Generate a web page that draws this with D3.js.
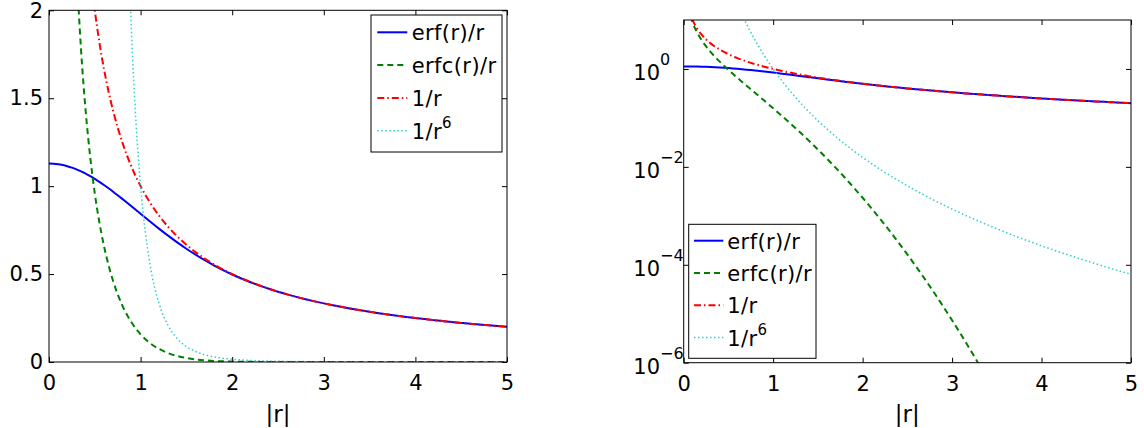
<!DOCTYPE html>
<html><head><meta charset="utf-8">
<script src="https://cdn.jsdelivr.net/npm/d3@7"></script>
<style>body{margin:0;background:#fff} svg{display:block}</style>
</head><body><svg id="c" width="1144" height="428"></svg>
<script>
// ---------------- data ----------------
const xs = [0,0.05,0.1,0.15,0.2,0.25,0.3,0.35,0.4,0.45,0.5,0.55,0.6,0.65,0.7,0.75,0.8,0.85,0.9,0.95,
  1.0,1.1,1.2,1.3,1.4,1.5,1.6,1.7,1.8,1.9,2.0,2.1,2.2,2.3,2.4,2.5,2.6,2.7,2.8,2.9,
  3.0,3.1,3.2,3.3,3.4,3.5,3.6,3.7,3.8,3.9,4.0,4.1,4.2,4.3,4.4,4.5,4.6,4.7,4.8,4.9,5.0];
const erfOverR = [1.128379,1.127440,1.124629,1.119973,1.113513,1.105306,1.095423,1.083949,1.070981,1.056625,
  1.041000,1.024224,1.006427,0.987737,0.968287,0.948207,0.927626,0.906668,0.885454,0.864096,
  0.842701,0.800186,0.758595,0.718468,0.680204,0.644070,0.610218,0.578700,0.549495,0.522521,
  0.497661,0.474772,0.453699,0.434286,0.416380,0.399837,0.384525,0.370321,0.357116,0.344813,
  0.333326,0.322577,0.312498,0.303029,0.294117,0.285714,0.277778,0.270270,0.263158,0.256410,
  0.250000,0.243902,0.238095,0.232558,0.227273,0.222222,0.217391,0.212766,0.208333,0.204082,0.200000];
const erfcOverR = [null,18.87256,8.875371,5.546693,3.886487,2.894694,2.237911,1.773194,1.429019,1.165596,
  0.959000,0.793957,0.660240,0.550724,0.460284,0.385126,0.322374,0.269802,0.225658,0.188536,
  0.157299,0.108904,0.0747383,0.0507632,0.0340821,0.0225966,0.0147823,0.00953500,0.00606083,0.00379453,
  0.00233885,0.00141881,0.000846727,0.000497043,0.000286875,0.000162800,9.077e-5,4.974e-5,2.679e-5,1.417e-5,
  7.363e-6,3.758e-6,1.883e-6,9.267e-7,4.476e-7,2.123e-7,9.89e-8,4.51e-8,2.03e-8,8.9e-9,
  3.85e-9,1.63e-9,6.8e-10,2.8e-10,1.1e-10,4.4e-11,1.7e-11,6.4e-12,2.4e-12,8.8e-13,3.1e-13];
const invR = [null,20,10,6.666667,5,4,3.333333,2.857143,2.5,2.222222,
  2,1.818182,1.666667,1.538462,1.428571,1.333333,1.25,1.176471,1.111111,1.052632,
  1,0.909091,0.833333,0.769231,0.714286,0.666667,0.625,0.588235,0.555556,0.526316,
  0.5,0.476190,0.454545,0.434783,0.416667,0.4,0.384615,0.370370,0.357143,0.344828,
  0.333333,0.322581,0.3125,0.303030,0.294118,0.285714,0.277778,0.270270,0.263158,0.256410,
  0.25,0.243902,0.238095,0.232558,0.227273,0.222222,0.217391,0.212766,0.208333,0.204082,0.2];
const invR6 = [null,6.4e7,1e6,87791,15625,4096,1371.74,543.99,244.14,120.43,
  64,36.127,21.433,13.259,8.4999,5.6187,3.8147,2.6515,1.88168,1.36037,
  1,0.564474,0.334898,0.207176,0.132810,0.0877915,0.0596046,0.0414295,0.0294012,0.0212559,
  0.015625,0.0116596,0.00881990,0.00675512,0.00523278,0.004096,0.00323713,0.00258117,0.00207516,0.00168117,
  0.00137174,0.00112676,0.000931323,0.000774312,0.000647331,0.000543991,0.000459394,0.000389754,0.000332122,0.000284192,
  0.000244141,0.000210522,0.000182181,0.000158194,0.000137812,0.000120428,0.000105549,9.27711e-5,8.17621e-5,7.22476e-5,6.4e-5];

const seriesLabels = ["erf(r)/r","erfc(r)/r","1/r","1/r"];
const seriesSup = ["","","","6"];
const xTicks = [0,1,2,3,4,5];
const yTicksLin = [0,0.5,1,1.5,2];
const yTicksLog = [1e-6,1e-4,1e-2,1e0];
const yTickExp = ["\u22126","\u22124","\u22122","0"];
const xLabel = "|r|";

// ---------------- styles ----------------
const series = [erfOverR, erfcOverR, invR, invR6];
const styles = [
  {color:"#0000ff", w:2,   dash:null},
  {color:"#008000", w:2,   dash:"6,4"},
  {color:"#ff0000", w:2,   dash:"7,3,1.5,3"},
  {color:"#33cccc", w:1.5, dash:"1.5,2.5"}
];
const FONT = "DejaVu Sans";
const svg = d3.select("#c");

function panel(cfg){
  const x = d3.scaleLinear().domain([0,5]).range([cfg.x0,cfg.x1]);
  const y = cfg.log ? d3.scaleLog().domain([1e-6,10]).range([cfg.y1,cfg.y0])
                    : d3.scaleLinear().domain([0,2]).range([cfg.y1,cfg.y0]);
  const [lo,hi] = y.domain();
  const inR = v => v!=null && v>=lo && v<=hi;
  const g = svg.append("g");
  const cid = "clip"+cfg.id;
  svg.append("clipPath").attr("id",cid).append("rect")
    .attr("x",cfg.x0).attr("y",cfg.y0).attr("width",cfg.x1-cfg.x0).attr("height",cfg.y1-cfg.y0);
  const lines = g.append("g").attr("clip-path",`url(#${cid})`);
  series.forEach((s,k)=>{
    const vis = s.map((v,i)=> v!=null && (inR(v) || inR(s[i-1]) || inR(s[i+1])));
    const line = d3.line().defined((d,i)=>vis[i]).x((d,i)=>x(xs[i])).y(d=>y(d)).curve(d3.curveMonotoneX);
    lines.append("path").attr("d",line(s)).attr("fill","none")
      .attr("stroke",styles[k].color).attr("stroke-width",styles[k].w)
      .attr("stroke-dasharray",styles[k].dash);
  });
  // axes
  const ax = g.append("g").attr("font-family",FONT);
  ax.append("g").attr("transform",`translate(0,${cfg.y1})`)
    .call(d3.axisBottom(x).tickValues(xTicks).tickSizeInner(-5).tickSizeOuter(0).tickPadding(13).tickFormat(d3.format("d")));
  ax.append("g").attr("transform",`translate(0,${cfg.y0})`)
    .call(d3.axisTop(x).tickValues(xTicks).tickSizeInner(-5).tickSizeOuter(0).tickFormat(""));
  const yt = cfg.log ? yTicksLog : yTicksLin;
  const left = ax.append("g").attr("transform",`translate(${cfg.x0},0)`)
    .call(d3.axisLeft(y).tickValues(yt).tickSizeInner(-5).tickSizeOuter(0).tickPadding(6)
      .tickFormat(cfg.log ? "" : d=>String(d)));
  ax.append("g").attr("transform",`translate(${cfg.x1},0)`)
    .call(d3.axisRight(y).tickValues(yt).tickSizeInner(-5).tickSizeOuter(0).tickFormat(""));
  ax.selectAll(".domain").remove();
  ax.selectAll(".tick line").attr("stroke","#000").attr("stroke-width",1);
  ax.selectAll("text").attr("font-size",21).attr("fill","#000").attr("font-family",FONT);
  if(cfg.log){
    left.selectAll(".tick").each(function(d){
      const t = d3.select(this).append("text").attr("x",cfg.labX - cfg.x0).attr("y",10.3)
        .attr("text-anchor","start").attr("font-family",FONT).attr("fill","#000").attr("font-size",21);
      t.append("tspan").text("10");
      t.append("tspan").attr("font-size",16).attr("dy",-15).text(yTickExp[yt.indexOf(d)]);
    });
  }
  // border
  g.append("rect").attr("x",cfg.x0).attr("y",cfg.y0).attr("width",cfg.x1-cfg.x0).attr("height",cfg.y1-cfg.y0)
    .attr("fill","none").attr("stroke","#000").attr("stroke-width",1);
  // x label
  g.append("text").attr("x",(cfg.x0+cfg.x1)/2).attr("y",422).attr("text-anchor","middle")
    .attr("font-family",FONT).attr("font-size",23).text(xLabel);
  // legend
  const L = cfg.legend;
  const lg = g.append("g");
  lg.append("rect").attr("x",L.x).attr("y",L.y).attr("width",L.w).attr("height",L.h)
    .attr("fill","#fff").attr("stroke","#000").attr("stroke-width",1);
  seriesLabels.forEach((lab,k)=>{
    const yy = L.first + k*L.step;
    lg.append("line").attr("x1",L.lx0).attr("x2",L.lx1).attr("y1",yy).attr("y2",yy)
      .attr("stroke",styles[k].color).attr("stroke-width",styles[k].w).attr("stroke-dasharray",styles[k].dash);
    const t = lg.append("text").attr("x",L.tx).attr("y",yy+8).attr("font-family",FONT)
      .attr("font-size",21).attr("letter-spacing",0.4).attr("fill","#000");
    t.append("tspan").text(lab);
    if(seriesSup[k]) t.append("tspan").attr("font-size",15).attr("dy",-11).text(seriesSup[k]);
  });
}

panel({id:"L", log:false, x0:49, x1:507, y0:10.3, y1:362,
  legend:{x:371, y:15, w:131, h:137, first:32.3, step:32.8, lx0:377.3, lx1:407.3, tx:411.7}});
panel({id:"R", log:true, x0:683.7, x1:1131, y0:20, y1:362.7, labX:633.3,
  legend:{x:688.7, y:224.3, w:127.3, h:134, first:240.7, step:32.3, lx0:694, lx1:723.3, tx:727.3}});
</script></body></html>
